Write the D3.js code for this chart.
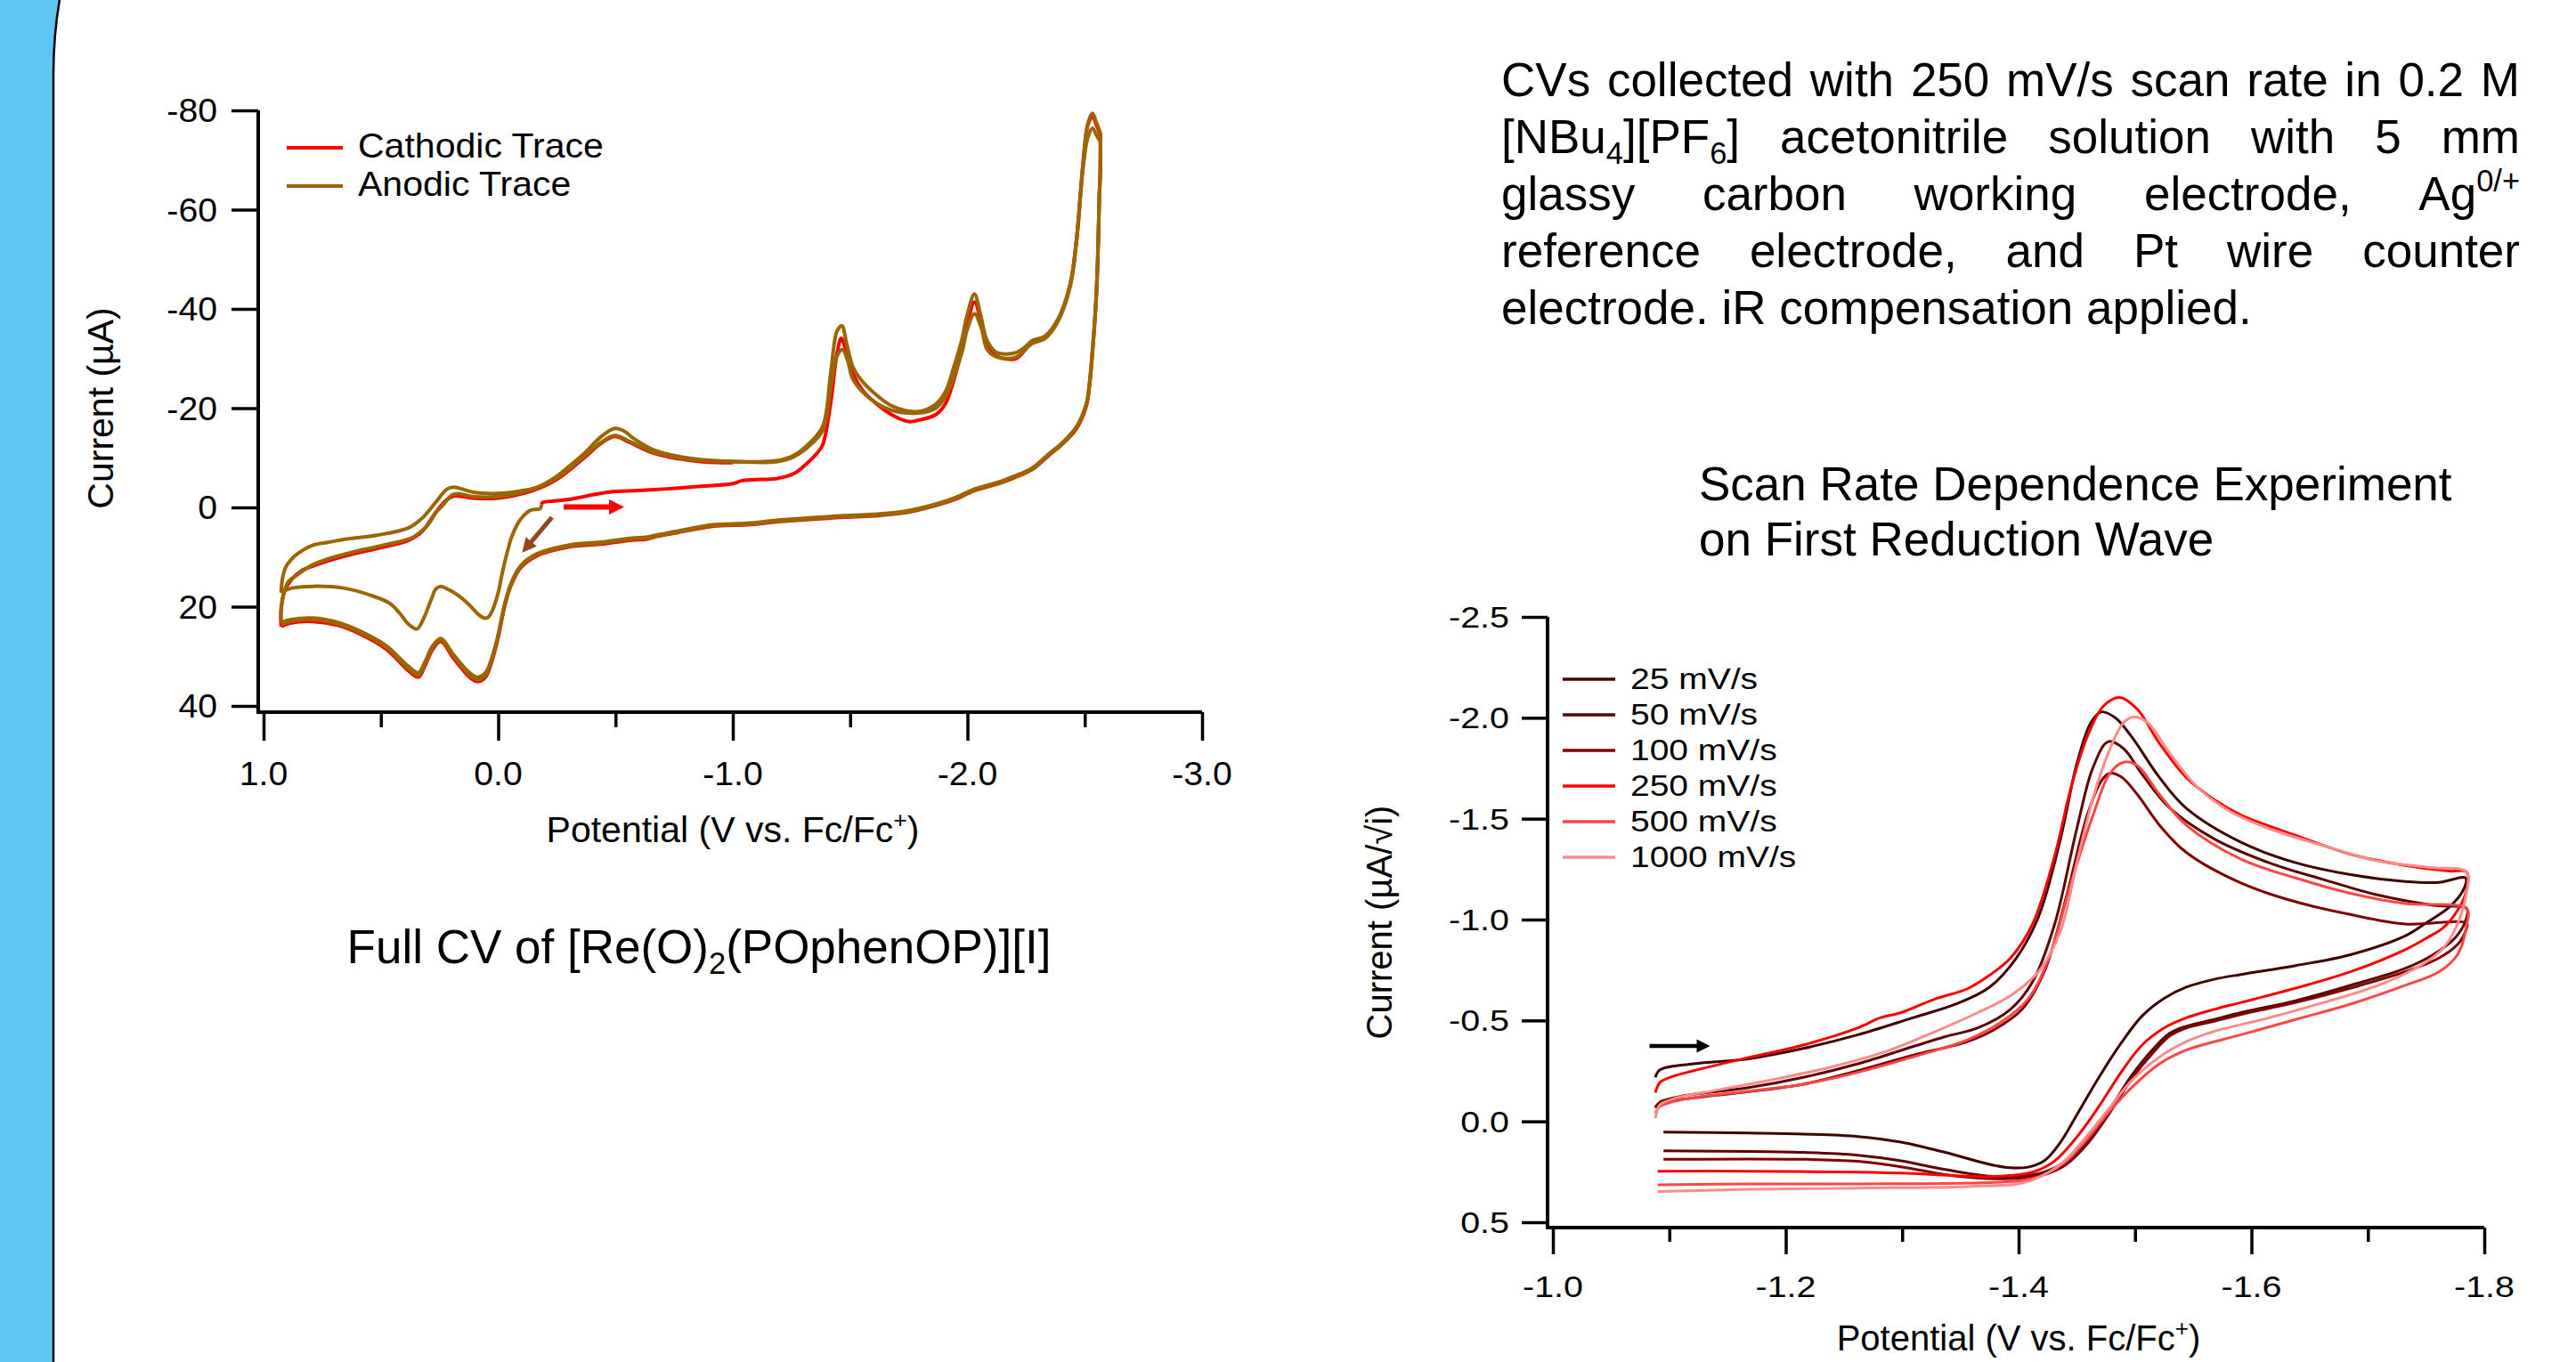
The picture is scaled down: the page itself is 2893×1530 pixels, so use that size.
<!DOCTYPE html>
<html>
<head>
<meta charset="utf-8">
<script src="https://cdn.jsdelivr.net/npm/d3@7"></script>
<style>
  html, body { margin: 0; padding: 0; background: #fff; }
  svg { display: block; font-family: "Liberation Sans", Arial, Helvetica, sans-serif; }
</style>
</head>
<body>
<svg id="chart" width="2893" height="1530"></svg>
<script>
// full CV, [E (V vs Fc/Fc+), I (uA)]
const cathodicInitial = [[-0.184,-0.6],[-0.19,-1.0],[-0.24,-1.3],[-0.30,-1.6],[-0.40,-2.5],[-0.476,-3.1],[-0.6,-3.4],[-0.707,-3.7],[-0.85,-4.2],[-0.913,-4.4],[-1.0,-4.8],[-1.04,-5.4],[-1.1,-5.6],[-1.185,-5.8],[-1.26,-6.8],[-1.321,-9.1],[-1.36,-11.0],[-1.383,-12.6],[-1.417,-21],[-1.444,-31],[-1.462,-34.1],[-1.48,-32],[-1.512,-27],[-1.55,-23.8],[-1.594,-21.6],[-1.676,-18.7],[-1.75,-17.3],[-1.785,-17.5],[-1.865,-18.7],[-1.907,-21],[-1.975,-31.5],[-2.0,-37],[-2.03,-41.4],[-2.06,-37],[-2.084,-32.5],[-2.125,-30.5],[-2.207,-30],[-2.275,-33.3],[-2.33,-34.3],[-2.384,-37.5],[-2.438,-45],[-2.465,-54],[-2.492,-68.9],[-2.513,-77],[-2.533,-78.8],[-2.55,-77],[-2.567,-75]];
const cathodicReturn = [[-2.567,-75],[-2.566,-67.5],[-2.562,-62.5],[-2.555,-49.5],[-2.548,-41.5],[-2.535,-32.5],[-2.52,-24.5],[-2.507,-20.5],[-2.465,-15.9],[-2.41,-13.0],[-2.34,-10.2],[-2.275,-7.6],[-2.2,-6.0],[-2.14,-4.9],[-2.03,-3.4],[-1.95,-1.7],[-1.865,-0.4],[-1.73,1.1],[-1.6,1.7],[-1.458,2.0],[-1.3,2.5],[-1.185,2.9],[-1.06,3.5],[-0.913,3.8],[-0.75,5.2],[-0.68,5.8],[-0.63,6.4],[-0.571,6.6],[-0.435,7.4],[-0.299,8.0],[-0.163,9.8],[-0.095,12.2],[-0.054,15.8],[-0.027,20.0],[0.0,26.2],[0.027,31.0],[0.054,34.2],[0.088,35.1],[0.122,34.2],[0.19,30.4],[0.245,27.0],[0.279,28.6],[0.313,32.0],[0.34,34.2],[0.381,33.0],[0.476,28.6],[0.585,25.6],[0.68,23.8],[0.789,23.0],[0.884,23.3],[0.925,24.0]];
const cathodicSecond = [[0.925,24.0],[0.925,20.5],[0.91,16.8],[0.88,14.5],[0.84,12.8],[0.789,11.8],[0.653,9.8],[0.49,8.0],[0.381,6.6],[0.327,5.0],[0.285,2.3],[0.25,0.0],[0.218,-1.6],[0.19,-2.3],[0.15,-2.2],[0.109,-1.9],[0.0,-1.9],[-0.136,-3.2],[-0.245,-5.5],[-0.367,-10.0],[-0.435,-12.8],[-0.497,-14.3],[-0.56,-13.1],[-0.653,-11.1],[-0.735,-10.1],[-0.871,-9.2],[-1.0,-9.0]];

const anodicStart = [[-0.184,-0.6],[-0.18,0.2],[-0.136,0.6],[-0.11,1.6],[-0.088,2.9],[-0.07,4.5],[-0.054,6.4],[-0.04,8.8],[-0.027,11.2],[-0.013,14.2],[0.0,17.2],[0.027,21.0],[0.045,22.2],[0.06,22.3],[0.088,21.4],[0.12,19.8],[0.163,18.0],[0.21,16.6],[0.245,15.9],[0.265,16.4],[0.285,18.5],[0.32,22.6],[0.347,24.5],[0.381,23.6],[0.42,21.3],[0.463,19.3],[0.544,17.7],[0.653,16.3],[0.789,15.9],[0.884,16.3],[0.925,17.2]];
const anodicFirst = [[0.925,17.2],[0.92,14.5],[0.905,12.0],[0.884,10.6],[0.857,9.4],[0.789,7.6],[0.721,7.0],[0.653,6.4],[0.517,5.6],[0.381,4.1],[0.327,2.3],[0.272,-0.7],[0.218,-3.7],[0.19,-4.1],[0.16,-3.8],[0.109,-3.1],[0.027,-2.8],[-0.08,-3.2],[-0.163,-4.0],[-0.245,-6.1],[-0.30,-8.2],[-0.367,-10.9],[-0.435,-14.1],[-0.497,-15.9],[-0.54,-15.3],[-0.571,-14.1],[-0.653,-11.8],[-0.735,-10.6],[-0.871,-9.6],[-1.0,-9.3],[-1.185,-9.4],[-1.26,-10.5],[-1.321,-12.7],[-1.383,-16.3],[-1.417,-27],[-1.444,-35.5],[-1.465,-36.6],[-1.485,-33],[-1.512,-28.3],[-1.55,-25.5],[-1.594,-23.4],[-1.676,-20.5],[-1.785,-19.3],[-1.865,-20.8],[-1.907,-23.4],[-1.94,-28],[-1.975,-33.6],[-2.0,-39],[-2.03,-43.0],[-2.055,-39],[-2.084,-33.6],[-2.125,-31.2],[-2.207,-31.2],[-2.25,-32.5],[-2.275,-33.6],[-2.33,-34.5],[-2.384,-37.8],[-2.438,-45],[-2.465,-54],[-2.492,-68.9],[-2.513,-77.3],[-2.533,-79.4],[-2.55,-77.5],[-2.567,-75.5]];
const anodicReturn = [[-2.567,-75.5],[-2.566,-68],[-2.562,-62.9],[-2.555,-50],[-2.548,-42],[-2.535,-33],[-2.52,-25],[-2.507,-21],[-2.465,-16.3],[-2.41,-13.3],[-2.34,-10.5],[-2.275,-7.9],[-2.2,-6.3],[-2.14,-5.2],[-2.03,-3.7],[-1.95,-2.0],[-1.865,-0.7],[-1.73,0.8],[-1.6,1.4],[-1.458,1.7],[-1.3,2.2],[-1.185,2.6],[-1.06,3.2],[-0.913,3.5],[-0.75,4.9],[-0.68,5.5],[-0.63,6.0],[-0.571,6.2],[-0.435,7.0],[-0.299,7.6],[-0.163,9.4],[-0.095,11.8],[-0.054,15.4],[-0.027,19.6],[0.0,25.6],[0.027,30.3],[0.054,33.3],[0.088,34.2],[0.122,33.3],[0.19,29.7],[0.245,26.4],[0.279,27.9],[0.313,31.2],[0.34,33.3],[0.381,32.1],[0.476,27.9],[0.585,25.0],[0.68,23.2],[0.789,22.3],[0.884,22.6],[0.925,23.2]];
const anodicSecond = [[0.925,23.2],[0.925,20.2],[0.912,17.0],[0.895,15.0],[0.857,13.6],[0.789,11.5],[0.653,9.4],[0.49,7.6],[0.367,6.1],[0.32,4.5],[0.299,3.5],[0.265,1.0],[0.231,-0.7],[0.2,-2.4],[0.17,-2.8],[0.14,-2.5],[0.109,-2.2],[0.0,-2.2],[-0.136,-3.5],[-0.245,-5.8],[-0.367,-10.3],[-0.435,-13.0],[-0.497,-14.5],[-0.56,-13.3],[-0.653,-11.3],[-0.735,-10.3],[-0.871,-9.4],[-1.0,-9.2],[-1.185,-9.2],[-1.26,-10.2],[-1.321,-12.2],[-1.383,-15.5],[-1.417,-24],[-1.444,-30.5],[-1.467,-31.8],[-1.49,-29.5],[-1.512,-25.8],[-1.594,-21.6],[-1.676,-19.6],[-1.785,-19.0],[-1.865,-20.0],[-1.907,-22.4],[-1.975,-31],[-2.0,-36],[-2.03,-39],[-2.06,-36],[-2.084,-31.8],[-2.125,-30.3],[-2.207,-30.3],[-2.275,-33.0],[-2.33,-34.0],[-2.384,-37.3],[-2.438,-44.5],[-2.465,-53.5],[-2.492,-68],[-2.513,-74.5],[-2.533,-76.4],[-2.55,-75],[-2.567,-73.7]];
const anodicReturn2 = [[-2.567,-73.7],[-2.566,-67],[-2.562,-62],[-2.555,-49],[-2.548,-41.5],[-2.535,-32.7],[-2.52,-24.8],[-2.507,-20.8],[-2.465,-16.1],[-2.41,-13.1],[-2.34,-10.3],[-2.275,-7.7],[-2.2,-6.1],[-2.14,-5.0],[-2.03,-3.5],[-1.95,-1.8],[-1.865,-0.5],[-1.73,1.0],[-1.6,1.6],[-1.458,1.9],[-1.3,2.4],[-1.185,2.8],[-1.06,3.4],[-0.913,3.7],[-0.75,5.1],[-0.68,5.7],[-0.63,6.2],[-0.571,6.4],[-0.435,7.2],[-0.299,7.8],[-0.163,9.6],[-0.095,12.0],[-0.054,15.6],[-0.027,19.8],[0.0,25.9],[0.027,30.7],[0.054,33.8],[0.088,34.7],[0.122,33.8],[0.19,30.0],[0.245,26.7],[0.279,28.2],[0.313,31.6],[0.34,33.8],[0.381,32.6],[0.476,28.2],[0.585,25.3],[0.68,23.5],[0.789,22.6],[0.884,22.9],[0.925,23.6]];

const cvXTicks = [1, 0, -1, -2, -3];
const cvXTickLabels = ["1.0", "0.0", "-1.0", "-2.0", "-3.0"];
const cvXMinor = [0.5, -0.5, -1.5, -2.5];
const cvYTicks = [-80, -60, -40, -20, 0, 20, 40];
const cvYTickLabels = ["-80", "-60", "-40", "-20", "0", "20", "40"];
const cvLegend = ["Cathodic Trace", "Anodic Trace"];
const cvArrowCathodic = [[-0.279, -0.1], [-0.537, -0.1]];
const cvArrowAnodic = [[-0.229, 2.0], [-0.102, 9.1]];

// scan rate study, [E (V), I (uA/sqrt)]
const rateLabels = ["25 mV/s", "50 mV/s", "100 mV/s", "250 mV/s", "500 mV/s", "1000 mV/s"];
const scan25 = [[-1.088,-0.218],[-1.092,-0.255],[-1.121,-0.285],[-1.168,-0.31],[-1.215,-0.361],[-1.262,-0.429],[-1.309,-0.513],[-1.346,-0.581],[-1.375,-0.665],[-1.398,-0.809],[-1.417,-1.012],[-1.436,-1.4],[-1.45,-1.772],[-1.462,-1.975],[-1.471,-2.029],[-1.483,-2.0],[-1.497,-1.907],[-1.521,-1.704],[-1.544,-1.552],[-1.591,-1.383],[-1.638,-1.282],[-1.685,-1.223],[-1.732,-1.189],[-1.761,-1.184],[-1.784,-1.206],[-1.782,-1.147],[-1.77,-1.062],[-1.751,-0.987],[-1.732,-0.919],[-1.685,-0.826],[-1.638,-0.772],[-1.591,-0.728],[-1.568,-0.704],[-1.544,-0.665],[-1.525,-0.61],[-1.506,-0.522],[-1.488,-0.387],[-1.469,-0.218],[-1.45,-0.032],[-1.436,0.103],[-1.422,0.196],[-1.408,0.227],[-1.393,0.23],[-1.375,0.213],[-1.337,0.154],[-1.299,0.103],[-1.262,0.075],[-1.215,0.063],[-1.168,0.058],[-1.095,0.053]];
const scan50 = [[-1.088,-0.066],[-1.092,-0.096],[-1.111,-0.125],[-1.168,-0.167],[-1.215,-0.218],[-1.262,-0.285],[-1.309,-0.37],[-1.337,-0.42],[-1.365,-0.463],[-1.393,-0.555],[-1.412,-0.691],[-1.431,-0.978],[-1.45,-1.451],[-1.464,-1.755],[-1.477,-1.882],[-1.49,-1.848],[-1.506,-1.721],[-1.53,-1.552],[-1.568,-1.4],[-1.615,-1.282],[-1.662,-1.198],[-1.709,-1.121],[-1.756,-1.071],[-1.785,-1.054],[-1.784,-0.995],[-1.775,-0.91],[-1.756,-0.826],[-1.732,-0.758],[-1.685,-0.674],[-1.638,-0.598],[-1.591,-0.539],[-1.568,-0.505],[-1.544,-0.471],[-1.53,-0.437],[-1.516,-0.361],[-1.497,-0.226],[-1.478,-0.057],[-1.459,0.095],[-1.441,0.196],[-1.422,0.252],[-1.403,0.272],[-1.375,0.272],[-1.337,0.239],[-1.299,0.196],[-1.262,0.168],[-1.215,0.154],[-1.095,0.146]];
const scan100 = [[-1.088,-0.069],[-1.092,-0.091],[-1.121,-0.116],[-1.168,-0.147],[-1.215,-0.184],[-1.262,-0.251],[-1.309,-0.327],[-1.356,-0.395],[-1.379,-0.454],[-1.403,-0.555],[-1.422,-0.741],[-1.441,-1.113],[-1.459,-1.518],[-1.471,-1.687],[-1.478,-1.725],[-1.488,-1.708],[-1.502,-1.62],[-1.521,-1.468],[-1.544,-1.333],[-1.591,-1.181],[-1.638,-1.088],[-1.685,-1.025],[-1.732,-0.978],[-1.785,-0.981],[-1.784,-0.944],[-1.777,-0.876],[-1.761,-0.809],[-1.732,-0.741],[-1.685,-0.66],[-1.638,-0.589],[-1.591,-0.53],[-1.568,-0.496],[-1.544,-0.463],[-1.53,-0.424],[-1.516,-0.344],[-1.497,-0.209],[-1.478,-0.04],[-1.459,0.112],[-1.441,0.213],[-1.422,0.264],[-1.403,0.281],[-1.375,0.284],[-1.337,0.264],[-1.299,0.225],[-1.262,0.198],[-1.215,0.188],[-1.095,0.188]];
const scan250 = [[-1.088,-0.142],[-1.092,-0.193],[-1.102,-0.221],[-1.121,-0.251],[-1.168,-0.316],[-1.215,-0.378],[-1.262,-0.463],[-1.281,-0.513],[-1.299,-0.539],[-1.328,-0.606],[-1.356,-0.657],[-1.375,-0.724],[-1.393,-0.809],[-1.412,-0.978],[-1.431,-1.316],[-1.445,-1.654],[-1.459,-1.907],[-1.473,-2.059],[-1.487,-2.101],[-1.502,-2.042],[-1.521,-1.873],[-1.544,-1.704],[-1.568,-1.594],[-1.591,-1.518],[-1.638,-1.417],[-1.685,-1.324],[-1.732,-1.268],[-1.77,-1.24],[-1.785,-1.235],[-1.784,-1.13],[-1.777,-1.045],[-1.765,-0.961],[-1.751,-0.91],[-1.732,-0.851],[-1.685,-0.741],[-1.638,-0.66],[-1.591,-0.589],[-1.568,-0.555],[-1.544,-0.513],[-1.525,-0.463],[-1.506,-0.378],[-1.488,-0.243],[-1.469,-0.074],[-1.45,0.078],[-1.431,0.196],[-1.412,0.252],[-1.384,0.272],[-1.356,0.272],[-1.309,0.259],[-1.262,0.252],[-1.168,0.247],[-1.09,0.247]];
const scan500 = [[-1.088,-0.041],[-1.092,-0.074],[-1.111,-0.108],[-1.168,-0.15],[-1.215,-0.184],[-1.262,-0.243],[-1.309,-0.319],[-1.356,-0.404],[-1.384,-0.488],[-1.408,-0.606],[-1.426,-0.809],[-1.445,-1.181],[-1.464,-1.518],[-1.478,-1.721],[-1.49,-1.78],[-1.502,-1.763],[-1.521,-1.62],[-1.544,-1.468],[-1.591,-1.299],[-1.638,-1.206],[-1.685,-1.13],[-1.732,-1.079],[-1.785,-1.054],[-1.785,-0.978],[-1.777,-0.826],[-1.761,-0.741],[-1.732,-0.674],[-1.685,-0.581],[-1.638,-0.505],[-1.591,-0.429],[-1.544,-0.353],[-1.521,-0.285],[-1.497,-0.167],[-1.478,-0.049],[-1.459,0.087],[-1.441,0.196],[-1.422,0.264],[-1.403,0.293],[-1.356,0.306],[-1.262,0.31],[-1.168,0.31],[-1.09,0.315]];
const scan1000 = [[-1.088,-0.015],[-1.092,-0.082],[-1.106,-0.116],[-1.144,-0.158],[-1.191,-0.209],[-1.238,-0.268],[-1.285,-0.344],[-1.332,-0.454],[-1.365,-0.539],[-1.393,-0.623],[-1.417,-0.741],[-1.436,-0.944],[-1.45,-1.282],[-1.464,-1.603],[-1.478,-1.839],[-1.49,-1.975],[-1.499,-2.005],[-1.511,-1.975],[-1.53,-1.823],[-1.554,-1.654],[-1.582,-1.535],[-1.615,-1.451],[-1.662,-1.366],[-1.709,-1.29],[-1.756,-1.257],[-1.785,-1.235],[-1.784,-1.113],[-1.777,-0.978],[-1.765,-0.86],[-1.746,-0.775],[-1.709,-0.674],[-1.662,-0.589],[-1.615,-0.513],[-1.568,-0.446],[-1.544,-0.395],[-1.521,-0.319],[-1.497,-0.201],[-1.478,-0.066],[-1.459,0.07],[-1.441,0.188],[-1.422,0.264],[-1.403,0.306],[-1.356,0.323],[-1.262,0.331],[-1.168,0.337],[-1.09,0.348]];
const rateColors = ["#3f0000", "#5e0000", "#7e0000", "#ff0000", "#ff4545", "#ff8a8a"];

const srXTicks = [-1.0, -1.2, -1.4, -1.6, -1.8];
const srXTickLabels = ["-1.0", "-1.2", "-1.4", "-1.6", "-1.8"];
const srXMinor = [-1.1, -1.3, -1.5, -1.7];
const srYTicks = [-2.5, -2.0, -1.5, -1.0, -0.5, 0.0, 0.5];
const srYTickLabels = ["-2.5", "-2.0", "-1.5", "-1.0", "-0.5", "0.0", "0.5"];
const srArrow = [[-1.083, -0.374], [-1.135, -0.374]];

const noteLines = [
  "CVs collected with 250 mV/s scan rate in 0.2 M",
  "[NBu_{4}][PF_{6}] acetonitrile solution with 5 mm",
  "glassy carbon working electrode, Ag^{0/+}",
  "reference electrode, and Pt wire counter",
  "electrode. iR compensation applied."
];
const cvCaption = "Full CV of [Re(O)_{2}(POphenOP)][I]";
const srTitle = ["Scan Rate Dependence Experiment", "on First Reduction Wave"];

const svg = d3.select("#chart");
const RED = "#ff0000", BROWN = "#9b6500";

// side bar with rounded panel edge
svg.append("rect").attr("width", 2893).attr("height", 1530).attr("fill", "#fff");
svg.append("rect").attr("width", 80).attr("height", 1530).attr("fill", "#61c5f1");
svg.append("rect")
  .attr("x", 60).attr("y", -417).attr("width", 4000).attr("height", 4000).attr("rx", 500)
  .attr("fill", "#fff").attr("stroke", "#000").attr("stroke-width", 2.5);

function rich(sel, str, size) {
  const parts = str.split(/(_\{[^}]*\}|\^\{[^}]*\})/).filter(s => s.length);
  let shift = 0;
  parts.forEach(p => {
    let dy = 0, fs = size, t = p;
    if (p.startsWith("_{")) { t = p.slice(2, -1); fs = size * 0.65; dy = size * 0.22; }
    else if (p.startsWith("^{")) { t = p.slice(2, -1); fs = size * 0.65; dy = -size * 0.4; }
    sel.append("tspan").attr("font-size", fs).attr("dy", dy - shift).text(t);
    shift = dy;
  });
  return sel;
}

function label(g, x, y, str, size, sx, anchor) {
  return g.append("text")
    .attr("transform", `translate(${x},${y}) scale(${sx},1)`)
    .attr("text-anchor", anchor)
    .attr("font-size", size)
    .text(str);
}

function arrow(g, p0, p1, w, hl, hw, color) {
  const dx = p1[0] - p0[0], dy = p1[1] - p0[1];
  const len = Math.hypot(dx, dy), ux = dx / len, uy = dy / len;
  const bx = p1[0] - ux * hl, by = p1[1] - uy * hl;
  g.append("line").attr("x1", p0[0]).attr("y1", p0[1]).attr("x2", bx + ux * 2).attr("y2", by + uy * 2)
    .attr("stroke", color).attr("stroke-width", w);
  g.append("path")
    .attr("d", `M${p1[0]},${p1[1]}L${bx - uy * hw / 2},${by + ux * hw / 2}L${bx + uy * hw / 2},${by - ux * hw / 2}Z`)
    .attr("fill", color);
}

function ticks(g, axis, transform) {
  g.append("g").attr("transform", transform).call(axis)
    .call(s => s.select(".domain").remove())
    .call(s => s.selectAll("line").attr("stroke", "#000").attr("stroke-width", 3.5));
}

// ---------- full CV ----------
{
  const x = d3.scaleLinear().domain([1, -3]).range([296, 1350]);
  const y = d3.scaleLinear().domain([-80, 40]).range([124, 793]);
  const axisX = 290, axisY = 800;
  const g = svg.append("g");

  ticks(g, d3.axisBottom(x).tickValues(cvXTicks).tickSize(32).tickFormat(""), `translate(0,${axisY})`);
  ticks(g, d3.axisBottom(x).tickValues(cvXMinor).tickSize(17).tickFormat(""), `translate(0,${axisY})`);
  ticks(g, d3.axisLeft(y).tickValues(cvYTicks).tickSize(30).tickFormat(""), `translate(${axisX},0)`);
  g.append("path").attr("d", `M${axisX},${y(-80)}V${axisY}H${x(-3)}`)
    .attr("fill", "none").attr("stroke", "#000").attr("stroke-width", 4);

  cvXTicks.forEach((v, i) => label(g, x(v), 882, cvXTickLabels[i], 37, 1.06, "middle"));
  cvYTicks.forEach((v, i) => label(g, 244, y(v) + 13, cvYTickLabels[i], 37, 1.06, "end"));

  rich(g.append("text").attr("x", (x(1) + x(-3)) / 2).attr("y", 946)
    .attr("text-anchor", "middle").attr("font-size", 41), "Potential (V vs. Fc/Fc^{+})", 41);
  g.append("text").attr("transform", `translate(127,${(y(-80) + y(40)) / 2}) rotate(-90)`)
    .attr("text-anchor", "middle").attr("font-size", 41).text("Current (\u00b5A)");

  const line = d3.line().x(d => x(d[0])).y(d => y(d[1])).curve(d3.curveCatmullRom.alpha(0.5));
  const traces = [
    { data: cathodicInitial, color: RED }, { data: cathodicReturn, color: RED }, { data: cathodicSecond, color: RED },
    { data: anodicStart, color: BROWN }, { data: anodicFirst, color: BROWN }, { data: anodicReturn, color: BROWN },
    { data: anodicSecond, color: BROWN }, { data: anodicReturn2, color: BROWN }
  ];
  g.selectAll(".cv").data(traces).enter().append("path")
    .attr("class", "cv")
    .attr("d", d => line(d.data))
    .attr("fill", "none")
    .attr("stroke", d => d.color)
    .attr("stroke-width", 4)
    .attr("stroke-linejoin", "round");

  const px = p => [x(p[0]), y(p[1])];
  arrow(g, px(cvArrowCathodic[0]), px(cvArrowCathodic[1]), 6, 17, 17, RED);
  arrow(g, px(cvArrowAnodic[0]), px(cvArrowAnodic[1]), 5, 16, 16, "#934619");

  const legendColors = [RED, BROWN];
  cvLegend.forEach((t, i) => {
    const ly = 166 + i * 43;
    g.append("line").attr("x1", 322).attr("x2", 385).attr("y1", ly).attr("y2", ly)
      .attr("stroke", legendColors[i]).attr("stroke-width", 4);
    label(g, 402, ly + 11, t, 38, 1.08, "start");
  });

  rich(g.append("text").attr("x", 785).attr("y", 1082).attr("text-anchor", "middle").attr("font-size", 53), cvCaption, 53);
}

// ---------- scan rate study ----------
{
  const x = d3.scaleLinear().domain([-1.0, -1.8]).range([1744, 2790]);
  const y = d3.scaleLinear().domain([-2.5, 0.5]).range([693, 1373]);
  const axisX = 1738, axisY = 1379;
  const g = svg.append("g");

  ticks(g, d3.axisBottom(x).tickValues(srXTicks).tickSize(30).tickFormat(""), `translate(0,${axisY})`);
  ticks(g, d3.axisBottom(x).tickValues(srXMinor).tickSize(16).tickFormat(""), `translate(0,${axisY})`);
  ticks(g, d3.axisLeft(y).tickValues(srYTicks).tickSize(29).tickFormat(""), `translate(${axisX},0)`);
  g.append("path").attr("d", `M${axisX},${y(-2.5)}V${axisY}H${x(-1.8)}`)
    .attr("fill", "none").attr("stroke", "#000").attr("stroke-width", 4);

  srXTicks.forEach((v, i) => label(g, x(v), 1457, srXTickLabels[i], 34, 1.16, "middle"));
  srYTicks.forEach((v, i) => label(g, 1695, y(v) + 12, srYTickLabels[i], 34, 1.16, "end"));

  rich(g.append("text").attr("x", (x(-1) + x(-1.8)) / 2).attr("y", 1517)
    .attr("text-anchor", "middle").attr("font-size", 40), "Potential (V vs. Fc/Fc^{+})", 40);
  g.append("text").attr("transform", `translate(1563,${(y(-2.5) + axisY) / 2}) rotate(-90)`)
    .attr("text-anchor", "middle").attr("font-size", 40).text("Current (\u00b5A/\u221ai)");

  const line = d3.line().x(d => x(d[0])).y(d => y(d[1])).curve(d3.curveCatmullRom.alpha(0.5));
  const scans = [scan25, scan50, scan100, scan250, scan500, scan1000];
  g.selectAll(".scan").data(scans).enter().append("path")
    .attr("class", "scan")
    .attr("d", d => line(d))
    .attr("fill", "none")
    .attr("stroke", (d, i) => rateColors[i])
    .attr("stroke-width", 3)
    .attr("stroke-linejoin", "round");

  arrow(g, [x(srArrow[0][0]), y(srArrow[0][1])], [x(srArrow[1][0]), y(srArrow[1][1])], 4.5, 15, 15, "#000");

  rateLabels.forEach((t, i) => {
    const ly = 763 + i * 40;
    g.append("line").attr("x1", 1755).attr("x2", 1814).attr("y1", ly).attr("y2", ly)
      .attr("stroke", rateColors[i]).attr("stroke-width", 3.5);
    label(g, 1831, ly + 10.5, t, 32.5, 1.2, "start");
  });

  srTitle.forEach((t, i) => g.append("text").attr("x", 1908).attr("y", 562 + i * 62)
    .attr("font-size", 53).text(t));
}

// ---------- justified note ----------
{
  const left = 1686, right = 2830, size = 53;
  const g = svg.append("g");
  noteLines.forEach((ln, li) => {
    const by = 108 + li * 64;
    const words = ln.split(" ");
    const nodes = words.map(w => rich(g.append("text").attr("y", by).attr("font-size", size), w, size));
    const widths = nodes.map(n => n.node().getComputedTextLength());
    const total = d3.sum(widths);
    const last = li === noteLines.length - 1;
    const gap = last ? size * 0.278 : (right - left - total) / (words.length - 1);
    let cx = left;
    nodes.forEach((n, i) => { n.attr("x", cx); cx += widths[i] + gap; });
  });
}
</script>
</body>
</html>
